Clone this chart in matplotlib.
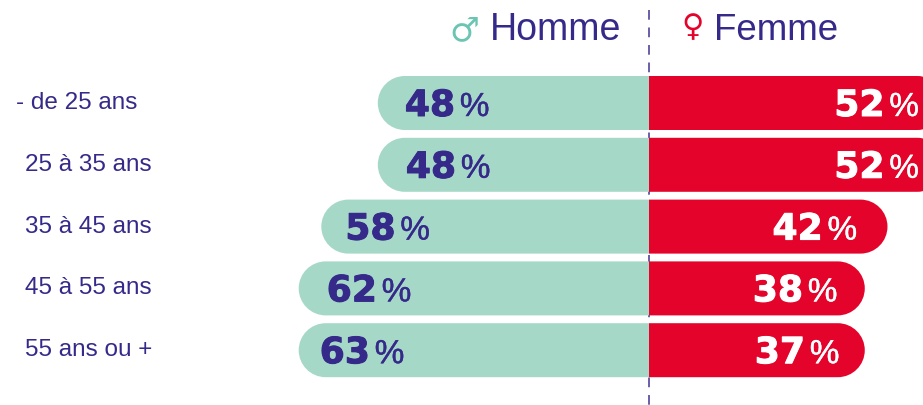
import matplotlib
matplotlib.use('Agg')
import matplotlib.pyplot as plt
import matplotlib.patheffects as pe
from matplotlib.patches import PathPatch
from matplotlib.path import Path

# Data
age_groups = ['- de 25 ans', '25 à 35 ans', '35 à 45 ans', '45 à 55 ans', '55 ans ou +']
homme_pct = [48, 48, 58, 62, 63]
femme_pct = [52, 52, 42, 38, 37]
# the last row is drawn as long as the row above it, whatever its label says
homme_len = [48, 48, 58, 62, 62]
femme_len = [52, 52, 42, 38, 38]

purple = '#352a8a'
teal = '#a6d8c8'
teal_dark = '#6cc5b3'
red = '#e4042b'
W, H = 923, 405

CENTER = 649       # pixel x of the zero line
PX_PCT = 5.65      # pixels per percent
FEMME_SCALE = 1.005 # the red side runs a little longer per percent
ROW0 = 103
ROW_STEP = 61.8    # pixels between rows
BAR_H = 54 / ROW_STEP
RADIUS = 27 / PX_PCT
KAPPA = 0.5523     # cubic bezier handle length for a quarter circle

fig = plt.figure(figsize=(W / 100, H / 100), dpi=100)
ax = fig.add_axes([0, 0, 1, 1])
ax.set_xlim(-CENTER / PX_PCT, (W - CENTER) / PX_PCT)
ax.set_ylim((H - ROW0) / ROW_STEP, -ROW0 / ROW_STEP)
ax.axis('off')


def dx(px):
    return px / PX_PCT


def dy(px):
    return px / ROW_STEP


def half_rounded_bar(end, row, color):
    # one closed path: square at zero, round at the outer end
    sign = 1 if end > 0 else -1
    r = sign * RADIUS
    h = BAR_H / 2
    cap = end - r
    verts = [(0, row - h), (cap, row - h),
             (cap + KAPPA * r, row - h), (end, row - KAPPA * h), (end, row),
             (end, row + KAPPA * h), (cap + KAPPA * r, row + h), (cap, row + h),
             (0, row + h), (0, row - h)]
    codes = [Path.MOVETO, Path.LINETO,
             Path.CURVE4, Path.CURVE4, Path.CURVE4,
             Path.CURVE4, Path.CURVE4, Path.CURVE4,
             Path.LINETO, Path.CLOSEPOLY]
    ax.add_patch(PathPatch(Path(verts, codes), fc=color, ec='none', zorder=2))


def value_label(x, row, value, color):
    # number and percent sign are set apart, in two different weights
    y = row + dy(13)
    ax.text(x, y, str(value), color=color, fontsize=26, fontweight='bold',
            family='DejaVu Sans', ha='left', va='baseline', zorder=3,
            path_effects=[pe.withStroke(linewidth=0.7, foreground=color)])
    ax.text(x + dx(55), y, '%', color=color, fontsize=24, family='Liberation Sans',
            ha='left', va='baseline', zorder=3,
            path_effects=[pe.withStroke(linewidth=0.3, foreground=color)])


# Dashed centre line, behind the bars
ax.plot([0, 0], [dy(10 - ROW0), dy(H - ROW0)], color='#6a5fa8', lw=1.4,
        dashes=(5, 4), zorder=1)

homme_nudge = [27, 28, 24, 28, 21]
femme_nudge = [-110, -110, -115, -112, -110]
for i in range(len(age_groups)):
    homme_end = -homme_len[i]
    femme_end = femme_len[i] * FEMME_SCALE
    half_rounded_bar(homme_end, i, teal)
    half_rounded_bar(femme_end, i, red)
    value_label(homme_end + dx(homme_nudge[i]), i, homme_pct[i], purple)
    value_label(femme_end + dx(femme_nudge[i]), i, femme_pct[i], 'white')
    label_x = 16 if i == 0 else 25
    ax.text(dx(label_x - CENTER), i, age_groups[i], color=purple, fontsize=17.5,
            family='Liberation Sans', ha='left', va='center')

# Header
head_y = dy(40 - ROW0)
ax.text(dx(490 - CENTER), head_y, 'Homme', color=purple, fontsize=27,
        family='Liberation Sans', ha='left', va='baseline')
ax.text(dx(714 - CENTER), head_y, 'Femme', color=purple, fontsize=26.5,
        family='Liberation Sans', ha='left', va='baseline')
ax.text(dx(464 - CENTER), dy(31 - ROW0), '♂', color=teal_dark, fontsize=24,
        family='DejaVu Sans', ha='center', va='center')
ax.text(dx(693 - CENTER), dy(28 - ROW0), '♀', color=red, fontsize=22,
        family='DejaVu Sans', ha='center', va='center')

fig.savefig('out.png', dpi=100)
